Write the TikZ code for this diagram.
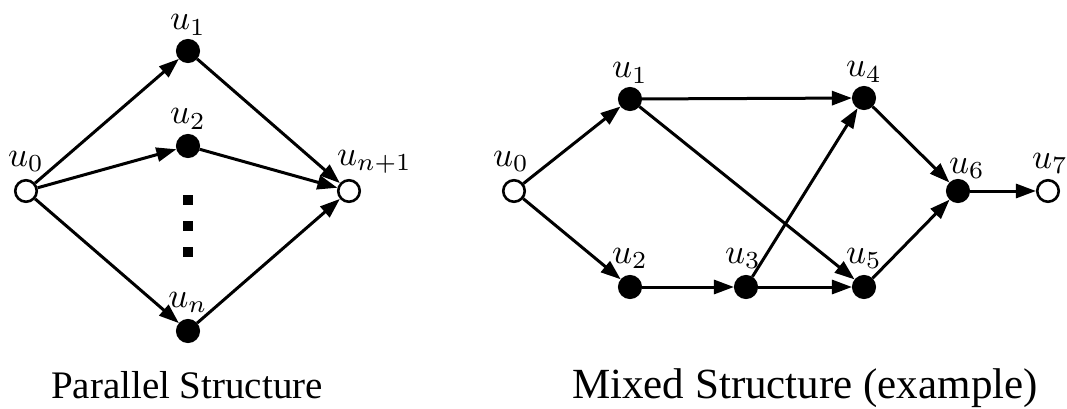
\documentclass[tikz,border=0pt]{standalone}
\usepackage{graphicx}
\usepackage{fontspec}
\setmainfont{Liberation Serif}
\usetikzlibrary{arrows.meta,calc}
\newcommand{\lbl}[1]{\scalebox{3.5}{$#1$}}
\tikzset{
  vtx/.style={circle, draw=black, line width=2.6pt, minimum size=21.5pt, inner sep=0pt},
  fv/.style={vtx, fill=black},
  ov/.style={vtx, fill=white},
  edg/.style={line width=3pt, -{Triangle[length=20pt,width=14pt]}},
  lab/.style={inner sep=0pt, font=\fontsize{10}{12}\selectfont, anchor=base},
  captext/.style={inner sep=0pt, font=\fontsize{39}{46}\selectfont, anchor=base},
  sq/.style={rectangle, fill=black, minimum size=10pt, inner sep=0pt}
}
\begin{document}
\begin{tikzpicture}[x=1pt,y=-1pt]
\useasboundingbox (0,0) rectangle (1067,409);
% ---------- Parallel structure ----------
\node[ov] (a0) at (26,191) {};
\node[fv] (a1) at (188,51) {};
\node[fv] (a2) at (188,146) {};
\node[fv] (an) at (188,331) {};
\node[ov] (ae) at (349,191) {};
\node[sq] (d1) at (188,200) {};
\node[sq] (d2) at (188,226) {};
\node[sq] (d3) at (188,252) {};
\node[lab] (la0) at ($(a0)+(0,-25)$) {\lbl{u_0}};
\node[lab] (la1) at ($(a1)+(0,-21)$) {\lbl{u_1}};
\node[lab] (la2) at ($(a2)+(0,-22)$) {\lbl{u_2}};
\node[lab] (lan) at ($(an)+(0,-24)$) {\lbl{u_n}};
\node[lab, anchor=base west] (lae) at ($(ae)+(-12,-26)$) {\lbl{u_{n+1}}};
\draw[edg] (a0) -- (a1);
\draw[edg] (a0) -- (a2);
\draw[edg] (a0) -- (an);
\draw[edg] (a1) -- (ae);
\draw[edg] (a2) -- (ae);
\draw[edg] (an) -- (ae);
\node[captext] (c1) at (187,398) {Parallel Structure};
% ---------- Mixed structure ----------
\node[ov] (b0) at (514,191) {};
\node[fv] (b1) at (630,99) {};
\node[fv] (b2) at (630,287) {};
\node[fv] (b3) at (746,287) {};
\node[fv] (b4) at (864,98) {};
\node[fv] (b5) at (864,287) {};
\node[fv] (b6) at (958,191) {};
\node[ov] (b7) at (1048,191) {};
\node[lab] (lb0) at ($(b0)+(-3,-25)$) {\lbl{u_0}};
\node[lab] (lb1) at ($(b1)+(0,-21)$) {\lbl{u_1}};
\node[lab] (lb2) at ($(b2)+(0,-24)$) {\lbl{u_2}};
\node[lab] (lb3) at ($(b3)+(-3,-24)$) {\lbl{u_3}};
\node[lab] (lb4) at ($(b4)+(0,-21)$) {\lbl{u_4}};
\node[lab] (lb5) at ($(b5)+(0,-24)$) {\lbl{u_5}};
\node[lab] (lb6) at ($(b6)+(9,-18)$) {\lbl{u_6}};
\node[lab] (lb7) at ($(b7)+(2,-23)$) {\lbl{u_7}};
\draw[edg] (b0) -- (b1);
\draw[edg] (b0) -- (b2);
\draw[edg] (b1) -- (b4);
\draw[edg] (b1) -- (b5);
\draw[edg] (b2) -- (b3);
\draw[edg] (b3) -- (b4);
\draw[edg] (b3) -- (b5);
\draw[edg] (b4) -- (b6);
\draw[edg] (b5) -- (b6);
\draw[edg] (b6) -- (b7);
\node[captext, font=\fontsize{43}{50}\selectfont] (c2) at (805,398) {Mixed Structure (example)};
\end{tikzpicture}
\end{document}
